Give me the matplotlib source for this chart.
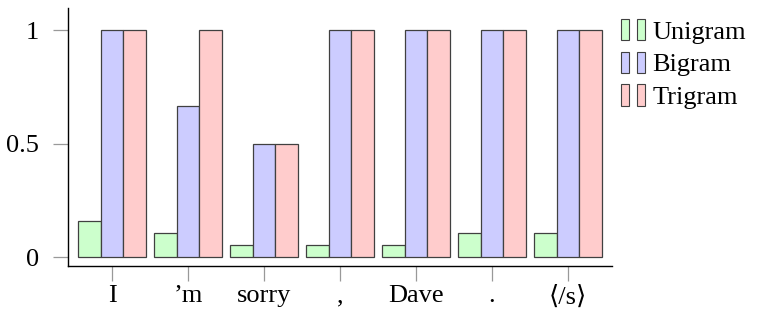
import matplotlib
matplotlib.use("Agg")
import matplotlib.pyplot as plt
from matplotlib.patches import Rectangle
from matplotlib.legend_handler import HandlerBase
import numpy as np

tokens = ["I", "\u2019m", "sorry", ",", "Dave", ".", "\u27e8/s\u27e9"]
unigram = [3/19, 2/19, 1/19, 1/19, 1/19, 2/19, 2/19]
bigram = [1, 2/3, 0.5, 1, 1, 1, 1]
trigram = [1, 1, 0.5, 1, 1, 1, 1]
series_names = ["Unigram", "Bigram", "Trigram"]

colors = ["#ccffcc", "#ccccff", "#ffcccc"]
edge = "#404040"

plt.rcParams['font.family'] = ['Liberation Serif', 'DejaVu Serif']


class TwoBarHandler(HandlerBase):
    # pgfplots-style ybar legend: two little bars side by side
    def create_artists(self, legend, orig_handle, xdescent, ydescent,
                       width, height, fontsize, trans):
        fc = orig_handle.get_facecolor()
        w = width * 0.3
        h = height * 1.15
        arts = []
        for x0 in (0, width * 0.62):
            r = Rectangle((x0 - xdescent, -ydescent - 0.08 * height), w, h,
                          facecolor=fc, edgecolor=edge, linewidth=0.8,
                          transform=trans)
            arts.append(r)
        return arts


fig = plt.figure(figsize=(7.58, 3.11), dpi=100)
ax = fig.add_axes([0.0897, 0.1447, 0.7177, 0.8293])

x = np.arange(len(tokens))
bw = 0.30
bars = []
for i, (vals, c) in enumerate(zip([unigram, bigram, trigram], colors)):
    b = ax.bar(x + (i - 1) * bw, vals, bw, color=c, edgecolor=edge,
               linewidth=0.9, label=series_names[i])
    bars.append(b)

ax.set_xlim(-0.58, 6.58)
ax.set_ylim(-0.0396, 1.097)
ax.set_xticks(x)
ax.set_xticklabels(tokens, fontsize=19)
ax.set_yticks([0, 0.5, 1])
ax.set_yticklabels(["0", "0.5", "1"], fontsize=19)
ax.tick_params(axis='both', color='#999999', length=11, width=0.9, pad=3)
ax.tick_params(axis='y', pad=10)

for s in ['top', 'right']:
    ax.spines[s].set_visible(False)
for s in ['left', 'bottom']:
    ax.spines[s].set_linewidth(1.0)
    ax.spines[s].set_color('black')

handles = [b.patches[0] for b in bars]
leg = fig.legend(handles, series_names, loc='upper left',
                 bbox_to_anchor=(0.819, 0.935), frameon=False,
                 handler_map={h: TwoBarHandler() for h in handles},
                 fontsize=19, handlelength=1.0, handletextpad=0.2,
                 labelspacing=0.35, borderaxespad=0, borderpad=0)

plt.savefig("out.png", dpi=100)
plt.close()
